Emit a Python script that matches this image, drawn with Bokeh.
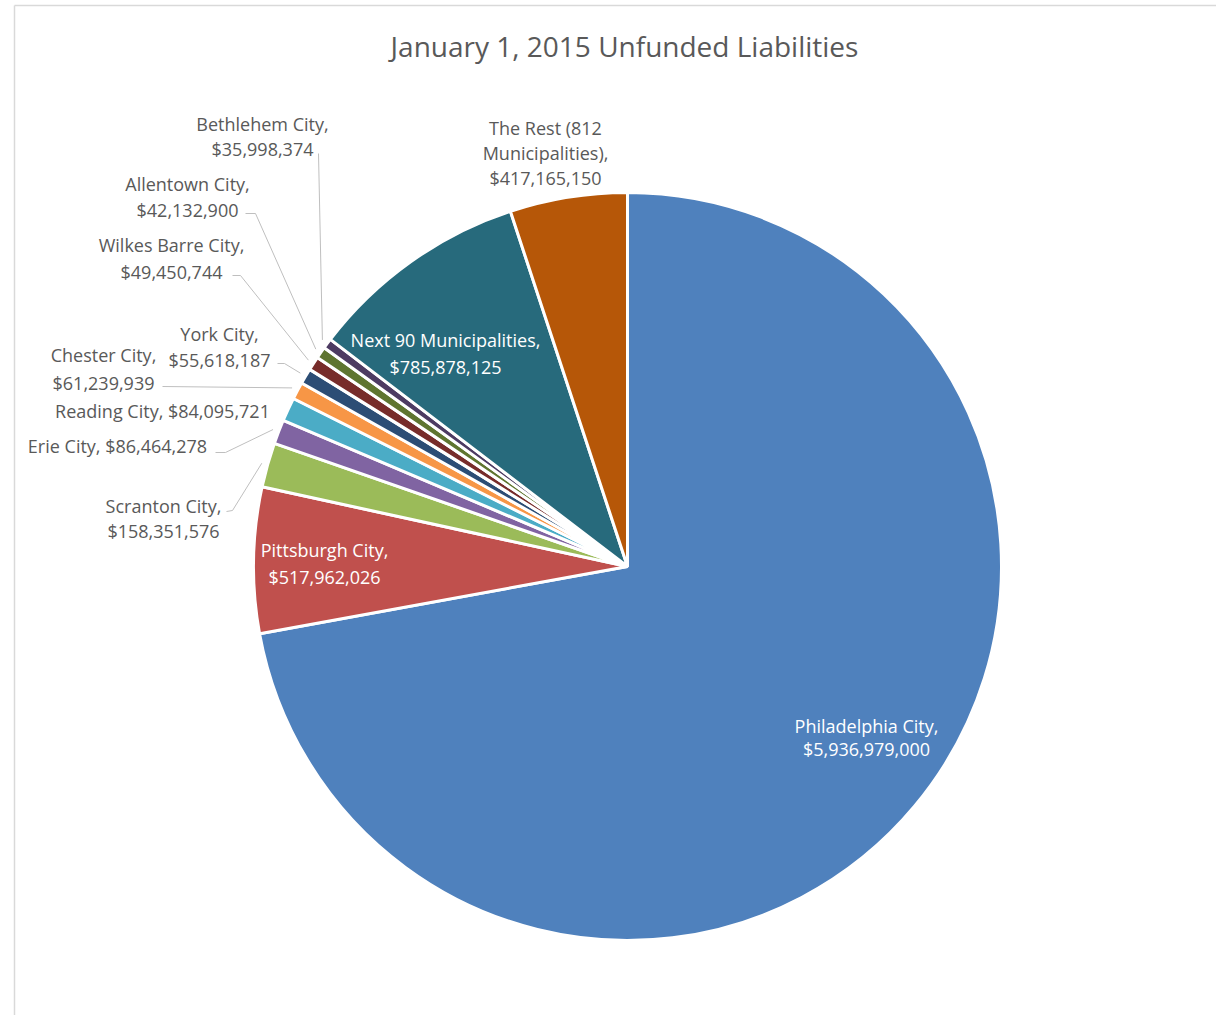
import math
from bokeh.plotting import figure
from bokeh.models import Range1d, ColumnDataSource
from bokeh.embed import file_html
from bokeh.resources import INLINE
from bokeh.core.properties import value

# ---------------- data ----------------
title_text = "January 1, 2015 Unfunded Liabilities"
categories = ["Philadelphia City", "Pittsburgh City", "Scranton City", "Erie City",
              "Reading City", "Chester City", "York City", "Wilkes Barre City",
              "Allentown City", "Bethlehem City", "Next 90 Municipalities",
              "The Rest (812 Municipalities)"]
liabilities = [5936979000, 517962026, 158351576, 86464278, 84095721, 61239939,
               55618187, 49450744, 42132900, 35998374, 785878125, 417165150]
colors = ["#4F81BD", "#C0504D", "#9BBB59", "#8064A2", "#4BACC6", "#F79646",
          "#2C4D75", "#772C2A", "#5F7530", "#4D3B62", "#276A7C", "#B65708"]

# ---------------- layout (screen pixels) ----------------
W, H = 1216, 1015
OX, OY = 0, 0
def dy(page_y):
    return (OY + H) - page_y

CX, CY, R = 627, 566, 374
FONT = "Open Sans"
LABEL_SIZE = "18px"
LINE_GAP = 26

label_layout = {
    "Philadelphia City": ((866, 725), "inside", 23),
    "Pittsburgh City": ((324, 549), "inside", 27),
    "Scranton City": ((163, 505), "outside", 25),
    "Erie City": ((117, 445), "outside", 0),
    "Reading City": ((162, 410), "outside", 0),
    "Chester City": ((103, 354), "outside", 28),
    "York City": ((219, 333), "outside", 26),
    "Wilkes Barre City": ((171, 244), "outside", 27),
    "Allentown City": ((187, 183), "outside", 26),
    "Bethlehem City": ((262, 123), "outside", 25),
    "Next 90 Municipalities": ((445, 339), "inside", 27),
    "The Rest (812 Municipalities)": ((545, 127), "outside", 25),
}
leader_start = {
    "Bethlehem City": [(318, 153)],
    "Allentown City": [(245, 213), (255, 213)],
    "Wilkes Barre City": [(232, 275), (240, 275)],
    "York City": [(277, 363), (284, 363)],
    "Chester City": [(162, 386)],
    "Erie City": [(215, 452), (225, 452)],
    "Scranton City": [(226, 511), (232, 510)],
}

def label_lines(name, v):
    money = f"${v:,}"
    if name in ("Erie City", "Reading City"):
        return [f"{name}, {money}"]
    if name.startswith("The Rest"):
        a, b = name.split(" (")
        return [f"{a} ({b.split()[0]}", f"{b.split()[1]},", money]
    return [f"{name},", money]

# ---------------- figure ----------------
p = figure(width=W, height=H, output_backend="svg", toolbar_location=None,
           x_range=Range1d(OX, OX + W), y_range=Range1d(0, H),
           min_border=0)
p.axis.visible = False
p.grid.visible = False
p.outline_line_color = None
p.background_fill_color = "white"
p.border_fill_color = "white"

# chart frame (light gray border)
p.line([14, OX + W], [dy(5), dy(5)], line_color="#D9D9D9", line_width=1.5)
p.line([14, 14], [dy(5), 0], line_color="#D9D9D9", line_width=1.5)

# wedges: start at 12 o'clock, clockwise
total = float(sum(liabilities))
starts, ends, mids = [], [], []
cum = 0.0
for v in liabilities:
    a0 = cum / total * 2 * math.pi
    cum += v
    a1 = cum / total * 2 * math.pi
    starts.append(math.pi / 2 - a1)
    ends.append(math.pi / 2 - a0)
    mids.append((a0 + a1) / 2)

src = ColumnDataSource(dict(start=starts, end=ends, color=colors, name=categories))
p.wedge(x=CX, y=dy(CY), radius=R, start_angle="start", end_angle="end",
        direction="anticlock", fill_color="color", line_color="white",
        line_width=3, source=src)

# leader lines
for i, name in enumerate(categories):
    if name not in leader_start:
        continue
    pts = leader_start[name]
    th = mids[i]
    rr = R + 6
    ex, ey = CX + rr * math.sin(th), CY - rr * math.cos(th)
    xs = [q[0] for q in pts] + [ex]
    ys = [dy(q[1]) for q in pts] + [dy(ey)]
    p.line(xs, ys, line_color="#BFBFBF", line_width=1)

# labels
tx, ty, tt, tc = [], [], [], []
for name, v in zip(categories, liabilities):
    (lx, ly), kind, gap = label_layout[name]
    for k, line in enumerate(label_lines(name, v)):
        tx.append(lx)
        ty.append(dy(ly + k * (gap if gap else LINE_GAP)))
        tt.append(line)
        tc.append("#FFFFFF" if kind == "inside" else "#595959")
lsrc = ColumnDataSource(dict(x=tx, y=ty, text=tt, color=tc))
p.text(x="x", y="y", text="text", text_color="color", source=lsrc,
       text_font=value(FONT), text_font_size=LABEL_SIZE,
       text_align="center", text_baseline="middle")

# title
p.text(x=[624], y=[dy(45)], text=[title_text], text_color="#595959",
       text_font=value(FONT), text_font_size="28px",
       text_align="center", text_baseline="middle")

open("out.html", "w").write(file_html(p, INLINE))
